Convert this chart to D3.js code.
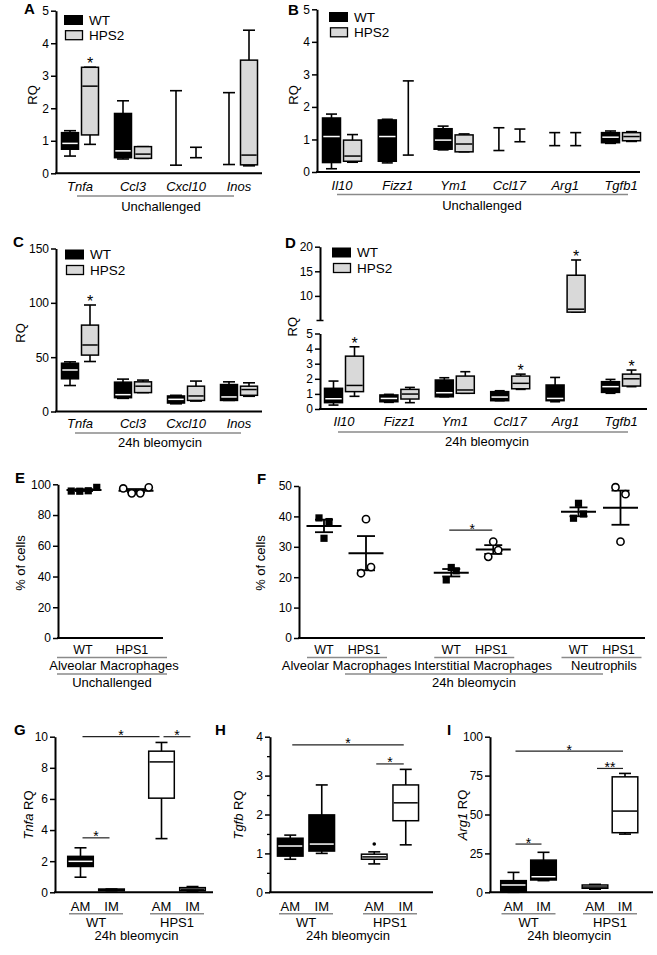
<!DOCTYPE html>
<html><head><meta charset="utf-8">
<script src="https://cdn.jsdelivr.net/npm/d3@7"></script>
<style>body{margin:0;background:#fff}svg{display:block}</style>
</head><body>
<script>
const FONT = "Arial, 'Liberation Sans', Helvetica, sans-serif";

// ---------------- DATA ----------------
// box values: [whiskerLow, q1, median, q3, whiskerHigh]
const genesA = ["Tnfa","Ccl3","Cxcl10","Inos"];
const wtA   = [[0.53,0.74,0.92,1.25,1.31],[0.44,0.48,0.69,1.84,2.23],[0.25,0.25,0.25,0.25,2.54],[0.27,0.27,0.27,0.27,2.48]];
const hps2A = [[0.89,1.18,2.68,3.26,3.26],[0.46,0.46,0.59,0.82,0.82],[0.48,0.48,0.48,0.48,0.80],[0.23,0.26,0.56,3.48,4.40]];
const starsA = ["Tnfa"];
const ticksA = [0,1,2,3,4,5];

const genesB = ["Il10","Fizz1","Ym1","Ccl17","Arg1","Tgfb1"];
const wtB   = [[0.10,0.29,1.09,1.66,1.78],[0.28,0.33,1.09,1.60,1.62],[0.68,0.70,0.98,1.33,1.41],[0.66,1.00,1.00,1.00,1.36],[0.81,1.00,1.00,1.00,1.21],[0.88,0.90,1.07,1.21,1.26]];
const hps2B = [[0.30,0.33,0.49,0.98,1.15],[0.52,1.39,1.39,1.39,2.80],[0.62,0.62,0.86,1.14,1.17],[0.93,1.05,1.05,1.05,1.32],[0.81,1.00,1.00,1.00,1.21],[0.94,0.96,1.09,1.21,1.24]];
const starsB = [];
const ticksB = [0,1,2,3,4,5];

const genesC = ["Tnfa","Ccl3","Cxcl10","Inos"];
const wtC   = [[23.9,30.1,38.2,44.4,45.7],[12.1,12.7,15.5,27.0,29.8],[7.1,7.8,11.2,14.3,14.9],[10.2,10.2,13.4,24.8,27.3]];
const hps2C = [[46.0,51.9,61.2,79.5,98.0],[17.4,17.4,23.3,27.3,28.9],[9.6,10.2,14.3,23.3,28.0],[14.0,14.9,20.2,23.3,26.4]];
const starsC = ["Tnfa"];
const ticksC = [0,50,100,150];

const genesD = ["Il10","Fizz1","Ym1","Ccl17","Arg1","Tgfb1"];
const wtD   = [[0.26,0.42,0.68,1.37,1.85],[0.44,0.48,0.70,0.93,0.97],[0.81,0.81,1.08,1.92,2.07],[0.55,0.55,0.79,1.15,1.21],[0.48,0.55,0.70,1.59,2.09],[1.04,1.10,1.48,1.81,1.96]];
const hps2D = [[0.84,1.15,1.56,3.50,4.12],[0.42,0.66,0.99,1.30,1.43],[1.04,1.04,1.26,2.18,2.47],[1.30,1.34,1.70,2.18,2.31],[6.7,6.7,7.3,14.2,17.3],[1.48,1.52,2.00,2.31,2.58]];
const starsD = ["Il10","Ccl17","Arg1","Tgfb1"];
const ticksDlow = [0,1,2,3,4,5];
const ticksDhigh = [10,15,20];

// E: % of alveolar macrophages, unchallenged
const groupsE = ["WT","HPS1"];
const pctE_WT = [95.6,95.5,95.8,98.0];
const pctE_HPS1 = [97.3,94.1,94.1,98.0];
const ticksE = [0,20,40,60,80,100];

// F: 24h bleomycin
const cellsF = ["Alveolar Macrophages","Interstitial Macrophages","Neutrophils"];
const pctF_WT   = [[39.5,32.8,38.3],[19.1,23.2,22.1],[39.4,44.3,40.8]];
const pctF_HPS1 = [[21.3,39.1,23.3],[26.7,31.7,28.9],[49.6,31.7,47.3]];
const ticksF = [0,10,20,30,40,50];
const bracketF = [1, 35.5, "*"];

// G, H, I
const genoGHI = ["WT","HPS1"];
const subsGHI = ["AM","IM"];
const tnfaWT   = [[0.97,1.66,1.99,2.31,2.86],[0.10,0.10,0.15,0.21,0.21]];
const tnfaHPS1 = [[3.45,6.05,8.38,9.07,9.63],[0.05,0.10,0.20,0.30,0.37]];
const ticksG = [0,2,4,6,8,10];
const bracketsG = [["WT","AM","HPS1","AM",10,"*"],["HPS1","AM","HPS1","IM",10,"*"],["WT","AM","WT","IM",3.5,"*"]];

const tgfbWT   = [[0.85,0.93,1.19,1.39,1.47],[1.00,1.06,1.24,1.99,2.76]];
const tgfbHPS1 = [[0.73,0.85,0.91,0.98,1.04],[1.22,1.84,2.30,2.76,3.16]];
const outliersH = [["HPS1","AM",1.24]];
const ticksH = [0,1,2,3,4];
const minorH = [0.5,1.5,2.5,3.5];
const bracketsH = [["WT","AM","HPS1","IM",3.79,"*"],["HPS1","AM","HPS1","IM",3.3,"*"]];

const arg1WT   = [[0.0,0.4,4.7,7.5,12.8],[7.5,7.9,10.0,20.7,25.7]];
const arg1HPS1 = [[2.0,2.6,3.4,4.7,5.1],[37.4,38.3,52.2,74.2,76.4]];
const ticksI = [0,25,50,75,100];
const bracketsI = [["WT","AM","HPS1","IM",90.7,"*"],["HPS1","AM","HPS1","IM",79.6,"**"],["WT","AM","WT","IM",31,"*"]];

// ---------------- HELPERS ----------------
const svg = d3.select("body").append("svg").attr("width",657).attr("height",955)
  .attr("font-family",FONT);
const ULC = "#8a8a8a";
const LAB = 13;      // category / group label size
const TICK = 12;     // tick label size

function text(g,x,y,str,o={}) {
  const t = g.append("text").attr("x",x).attr("y",y).text(str)
    .attr("font-size",o.size||LAB).attr("text-anchor",o.anchor||"middle").attr("fill","#000");
  if (o.italic) t.attr("font-style","italic");
  if (o.bold) t.attr("font-weight","bold");
  if (o.central) t.attr("dominant-baseline","central");
  return t;
}
function hline(g,x1,x2,y,w,c){ g.append("line").attr("x1",x1).attr("x2",x2).attr("y1",y).attr("y2",y).attr("stroke",c||"#000").attr("stroke-width",w||1.5); }
function vline(g,x,y1,y2,w,c){ g.append("line").attr("x1",x).attr("x2",x).attr("y1",y1).attr("y2",y2).attr("stroke",c||"#000").attr("stroke-width",w||1.5); }

function yAxis(g, scale, x, ticks, minor) {
  const ax = d3.axisLeft(scale).tickValues(ticks).tickSize(5).tickSizeOuter(0).tickPadding(2)
    .tickFormat(d3.format("~g"));
  const a = g.append("g").attr("transform",`translate(${x},0)`).call(ax)
    .attr("font-family",FONT).attr("font-size",TICK);
  a.select(".domain").attr("stroke-width",2);
  a.selectAll(".tick line").attr("stroke-width",1.5);
  a.selectAll(".tick text").attr("fill","#000");
  if (minor) {
    const m = g.append("g").attr("transform",`translate(${x},0)`)
      .call(d3.axisLeft(scale).tickValues(minor).tickSize(3).tickFormat(""));
    m.select(".domain").remove();
    m.selectAll(".tick line").attr("stroke-width",1.3);
  }
  return a;
}
function yTitle(g,x,y,parts){
  const t = g.append("text").attr("transform",`translate(${x},${y}) rotate(-90)`)
    .attr("text-anchor","middle").attr("dominant-baseline","central").attr("font-size",13);
  parts.forEach(([s,it]) => t.append("tspan").text(s).attr("font-style", it?"italic":"normal"));
}
function boxplot(g,cx,hw,cw,y,d,fill,med){
  const [lo,q1,m,q3,hi] = d;
  vline(g,cx,y(lo),y(hi),1.6);
  hline(g,cx-cw,cx+cw,y(lo),1.6);
  hline(g,cx-cw,cx+cw,y(hi),1.6);
  const h = Math.max(0,y(q1)-y(q3));
  g.append("rect").attr("x",cx-hw).attr("width",2*hw).attr("y",y(q3))
    .attr("height",h).attr("fill",fill).attr("stroke","#000").attr("stroke-width",1.5);
  if (q3>q1 && (h > 4 || med !== "#fff")) hline(g,cx-hw+0.8,cx+hw-0.8,y(m),1.5,med);
}
function legend(g,x,y1,y2,lab2){
  g.append("rect").attr("x",x).attr("y",y1-5).attr("width",19).attr("height",10).attr("fill","#000");
  g.append("rect").attr("x",x+1.5).attr("y",y2-4.5).attr("width",17).attr("height",9)
    .attr("fill","#d9d9d9").attr("stroke","#000").attr("stroke-width",1.3);
  text(g,x+25,y1,"WT",{anchor:"start",size:13.5,central:true});
  text(g,x+25,y2,lab2,{anchor:"start",size:13.5,central:true});
}
function genePanel(g,genes,wt,hps,x,y,off,hw,cw,stars,labY){
  genes.forEach((gene,i)=>{
    boxplot(g,x(gene)-off,hw,cw,y,wt[i],"#000","#fff");
    boxplot(g,x(gene)+off,hw,cw,y,hps[i],"#d9d9d9","#000");
    if (stars.includes(gene)) text(g,x(gene)+off,y(hps[i][4])+2,"*",{size:16});
    text(g,x(gene),labY,gene,{italic:true});
  });
}
function scatter(g,cx,vals,y,shape,spread){
  const n = vals.length, m = d3.mean(vals), se = d3.deviation(vals)/Math.sqrt(n);
  hline(g,cx-17.5,cx+17.5,y(m),2);
  vline(g,cx,y(m-se),y(m+se),1.8);
  hline(g,cx-9,cx+9,y(m+se),1.8);
  hline(g,cx-9,cx+9,y(m-se),1.8);
  vals.forEach((v,i)=>{
    const px = cx + (i-(n-1)/2)*spread;
    if (shape==="square") g.append("rect").attr("x",px-3.6).attr("y",y(v)-3.6).attr("width",7.2).attr("height",7.2).attr("fill","#000");
    else g.append("circle").attr("cx",px).attr("cy",y(v)).attr("r",3.6).attr("fill","#fff").attr("stroke","#000").attr("stroke-width",1.6);
  });
}

// ---------------- PANEL A ----------------
{
  const g = svg.append("g");
  const x = d3.scalePoint().domain(genesA).range([80,239]);
  const y = d3.scaleLinear().domain([0,5]).range([173.3,10.7]);
  genePanel(g,genesA,wtA,hps2A,x,y,10,8.5,6,starsA,190.5);
  yAxis(g,y,56,ticksA);
  hline(g,55,262,y(0),2);
  hline(g,77,234,196,1.5,ULC);
  text(g,161,210.5,"Unchallenged");
  yTitle(g,31.5,95,[["RQ",false]]);
  legend(g,64,20,35.2,"HPS2");
  text(g,24,14,"A",{anchor:"start",size:15,bold:true});
}
// ---------------- PANEL B ----------------
{
  const g = svg.append("g");
  const x = d3.scalePoint().domain(genesB).range([342,621]);
  const y = d3.scaleLinear().domain([0,5]).range([172,9.3]);
  genePanel(g,genesB,wtB,hps2B,x,y,10.5,9,5.5,starsB,189.5);
  yAxis(g,y,317,ticksB);
  hline(g,316,640,y(0),2);
  hline(g,337,628,194.5,1.5,ULC);
  text(g,482,209.5,"Unchallenged");
  yTitle(g,293,95,[["RQ",false]]);
  legend(g,329,17,32.3,"HPS2");
  text(g,288,15,"B",{anchor:"start",size:15,bold:true});
}
// ---------------- PANEL C ----------------
{
  const g = svg.append("g");
  const x = d3.scalePoint().domain(genesC).range([80,239]);
  const y = d3.scaleLinear().domain([0,150]).range([411.5,248.5]);
  genePanel(g,genesC,wtC,hps2C,x,y,10,8.5,6,starsC,428);
  yAxis(g,y,56,ticksC);
  hline(g,55,262,y(0),2);
  hline(g,75,241,433,1.5,ULC);
  text(g,160,447,"24h bleomycin");
  yTitle(g,20,333,[["RQ",false]]);
  legend(g,65,254.5,270,"HPS2");
  text(g,13,247,"C",{anchor:"start",size:15,bold:true});
}
// ---------------- PANEL D ----------------
{
  const g = svg.append("g");
  const x = d3.scalePoint().domain(genesD).range([344,621]);
  const yLow = d3.scaleLinear().domain([0,5]).range([409,333.5]);
  const yHigh = d3.scaleLinear().domain([5,20]).range([320.5,246.7]);
  const y = v => v <= 5 ? yLow(v) : yHigh(v);
  genePanel(g,genesD,wtD,hps2D,x,y,10.5,9,5,starsD,426);
  yAxis(g,yLow,320,ticksDlow);
  yAxis(g,yHigh,320,ticksDhigh);
  hline(g,316.5,323.5,yHigh(5),1.5);
  hline(g,319,647,yLow(0),2);
  hline(g,338,628,432,1.5,ULC);
  text(g,487,446,"24h bleomycin");
  yTitle(g,291.5,326.7,[["RQ",false]]);
  legend(g,332,252.5,268,"HPS2");
  text(g,285,247.5,"D",{anchor:"start",size:15,bold:true});
}
// ---------------- PANEL E ----------------
{
  const g = svg.append("g");
  const x = d3.scalePoint().domain(groupsE).range([84,136]);
  const y = d3.scaleLinear().domain([0,100]).range([638,484.3]);
  yAxis(g,y,58,ticksE);
  hline(g,57,163,y(0),2.2);
  scatter(g,x("WT"),pctE_WT,y,"square",8.5);
  scatter(g,x("HPS1"),pctE_HPS1,y,"circle",8.5);
  text(g,x("WT")-1,654,"WT",{size:12.5});
  text(g,x("HPS1")-4,654,"HPS1",{size:12.5});
  hline(g,57,167,657.5,1.5,ULC);
  text(g,114,669.5,"Alveolar Macrophages");
  hline(g,57,167,674,1.5,ULC);
  text(g,112,686.5,"Unchallenged");
  yTitle(g,20,563,[["% of cells",false]]);
  text(g,15,482.5,"E",{anchor:"start",size:15,bold:true});
}
// ---------------- PANEL F ----------------
{
  const g = svg.append("g");
  const x = d3.scalePoint().domain(cellsF).range([345,599.5]);
  const y = d3.scaleLinear().domain([0,50]).range([638,486]);
  yAxis(g,y,299,ticksF);
  hline(g,298,645,y(0),2.2);
  cellsF.forEach((c,i)=>{
    scatter(g,x(c)-21,pctF_WT[i],y,"square",5);
    scatter(g,x(c)+21,pctF_HPS1[i],y,"circle",5);
    text(g,x(c)-21,654,"WT",{size:12.5});
    text(g,x(c)+19,654,"HPS1",{size:12.5});
    hline(g,x(c)-38,x(c)+42,657.5,1.5,ULC);
  });
  text(g,346.5,669.5,"Alveolar Macrophages");
  text(g,483,669.5,"Interstitial Macrophages");
  text(g,604,669.5,"Neutrophils");
  hline(g,345,603,674,1.5,ULC);
  text(g,474,687,"24h bleomycin");
  const [bi,by,bl] = bracketF;
  const bc = x(cellsF[bi]);
  hline(g,bc-23,bc+20,y(by),1.2,"#222");
  text(g,bc,y(by)+3.5,bl,{size:14});
  yTitle(g,260,563,[["% of cells",false]]);
  text(g,257,483.5,"F",{anchor:"start",size:15,bold:true});
}
// ---------------- PANELS G, H, I ----------------
function ghiPanel(cfg){
  const {x0,x1,centers,yMax,ticks,minor,wt,hps,brackets,outliers,title,letter,lx,tx,off} = cfg;
  const g = svg.append("g");
  const x = d3.scalePoint().domain(genoGHI).range(centers);
  const y = d3.scaleLinear().domain([0,yMax]).range([892.3,736.7]);
  const bx = (geno,sub) => x(geno) + (sub==="AM" ? -off : off);
  [wt,hps].forEach((arr,gi)=>{
    const geno = genoGHI[gi];
    subsGHI.forEach((s,si)=>{
      boxplot(g,bx(geno,s),12.8,6,y,arr[si],gi===0?"#000":"#fff",gi===0?"#fff":"#000");
      text(g,bx(geno,s),910.5,s,{size:13});
    });
    hline(g,x(geno)-27,x(geno)+27,913.8,1.5,ULC);
    text(g,x(geno),927,geno,{size:13});
  });
  (outliers||[]).forEach(([geno,s,v])=> g.append("circle").attr("cx",bx(geno,s)).attr("cy",y(v)).attr("r",1.8).attr("fill","#000"));
  brackets.forEach(([g1,s1,g2,s2,v,lab])=>{
    const a = bx(g1,s1)+2, b = bx(g2,s2)-2;
    hline(g,a,b,y(v),1.2,"#222");
    text(g,(a+b)/2,y(v)+3.5,lab,{size:14});
  });
  yAxis(g,y,x0,ticks,minor);
  hline(g,x0-1,x1,y(0),2);
  text(g,(centers[0]+centers[1])/2,939.5,"24h bleomycin");
  yTitle(g,tx,815,title);
  text(g,lx,735,letter,{anchor:"start",size:15,bold:true});
}
ghiPanel({x0:55,x1:213,centers:[96,177],yMax:10,ticks:ticksG,wt:tnfaWT,hps:tnfaHPS1,brackets:bracketsG,
  title:[["Tnfa",true],[" RQ",false]],letter:"G",lx:14,tx:28,off:15.5});
ghiPanel({x0:270,x1:433,centers:[306,390],yMax:4,ticks:ticksH,minor:minorH,wt:tgfbWT,hps:tgfbHPS1,brackets:bracketsH,
  outliers:outliersH,title:[["Tgfb",true],[" RQ",false]],letter:"H",lx:215,tx:238,off:15.75});
ghiPanel({x0:490,x1:653,centers:[528.5,610],yMax:100,ticks:ticksI,wt:arg1WT,hps:arg1HPS1,brackets:bracketsI,
  title:[["Arg1",true],[" RQ",false]],letter:"I",lx:447,tx:461.5,off:15});
</script>
</body></html>
